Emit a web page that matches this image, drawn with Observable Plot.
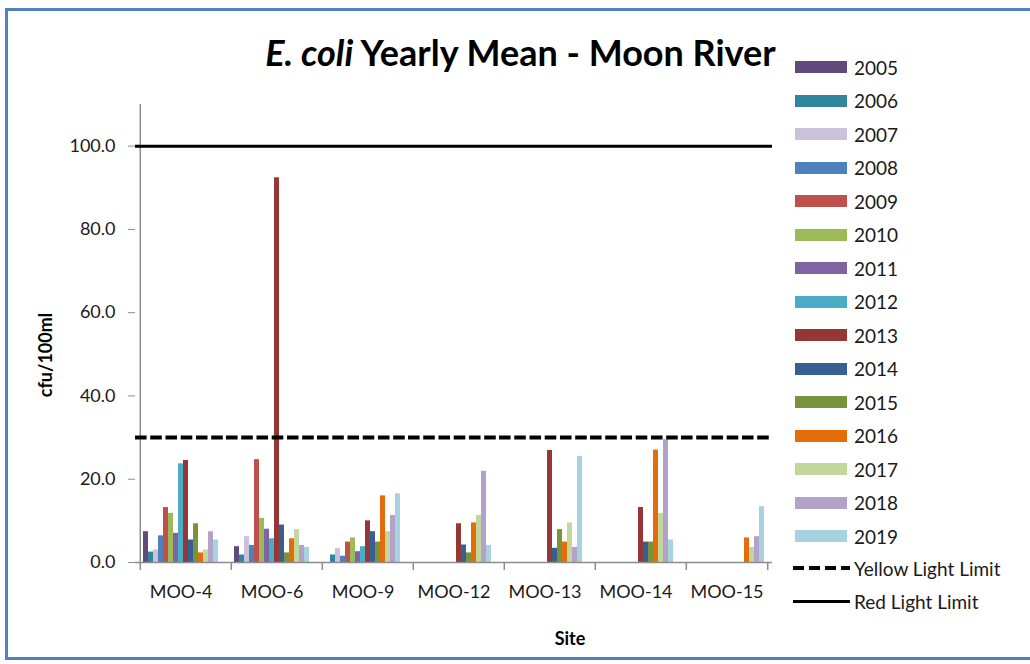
<!DOCTYPE html>
<html>
<head>
<meta charset="utf-8">
<script src="https://cdn.jsdelivr.net/npm/d3@7"></script>
<script src="https://cdn.jsdelivr.net/npm/@observablehq/plot@0.6"></script>
<style>
  body { margin: 0; background: #fff; }
  #wrap { position: relative; width: 1030px; height: 664px; overflow: hidden; background: #fff; font-family: Lato, "Open Sans", sans-serif; color: #1a1a1a; }
  #chart { position: absolute; left: 0; top: 0; }
  #border { position: absolute; left: 5px; top: 8px; width: 1040px; height: 652px; border: 3px solid #4F81BD; box-sizing: border-box; pointer-events: none; z-index: 3; }
  #title { position: absolute; left: 263px; top: 30px; width: 515px; text-align: center; font-weight: bold; font-size: 36px; white-space: nowrap; line-height: 44px; color: #000; }
  #ylab { position: absolute; left: 45px; top: 355px; transform: translate(-50%, -50%) rotate(-90deg); font-weight: bold; font-size: 18px; white-space: nowrap; color: #000; }
  #xlab { position: absolute; left: 570px; top: 638px; transform: translate(-50%, -50%); font-weight: bold; font-size: 18px; color: #000; }
  .lg { position: absolute; left: 0; height: 24px; display: flex; align-items: center; font-size: 19px; white-space: nowrap; }
  .sw { width: 52px; height: 12px; margin-left: 795px; margin-right: 7px; }
  .ln { width: 57px; margin-left: 793px; margin-right: 4px; height: 0; }
</style>
</head>
<body>
<div id="wrap">
  <div id="chart"></div>
  <div id="title"><i>E. coli</i> Yearly Mean - Moon River</div>
  <div id="ylab">cfu/100ml</div>
  <div id="xlab">Site</div>
  <div id="legend"></div>
  <div id="border"></div>
</div>
<script>
const sites = ["MOO-4", "MOO-6", "MOO-9", "MOO-12", "MOO-13", "MOO-14", "MOO-15"];
const years = ["2005","2006","2007","2008","2009","2010","2011","2012","2013","2014","2015","2016","2017","2018","2019"];
const colors = ["#604A7B","#31859C","#CCC1DA","#4F81BD","#C0504D","#9BBB59","#8064A2","#4BACC6","#953735","#376092","#77933C","#E46C0A","#C3D69B","#B3A2C7","#A6D3DF"];
const yTicks = [0, 20, 40, 60, 80, 100];
const yellowLimit = 30;
const redLimit = 100;

// yearly means per site, one value per year 2005..2019 (null = no data)
const moo4  = [7.4, 2.5, 3.0, 6.4, 13.2, 11.8, 7.0, 23.7, 24.5, 5.4, 9.3, 2.3, 3.0, 7.4, 5.4];
const moo6  = [3.8, 1.8, 6.2, 4.1, 24.7, 10.6, 8.0, 5.7, 92.4, 9.0, 2.3, 5.7, 7.9, 4.1, 3.6];
const moo9  = [null, 1.8, 3.4, 1.5, 4.9, 5.9, 2.6, 3.8, 10.0, 7.4, 4.9, 16.0, 7.4, 11.3, 16.5];
const moo12 = [null, null, null, null, null, null, null, null, 9.3, 4.2, 2.3, 9.5, 11.3, 21.9, 4.1];
const moo13 = [null, null, null, null, null, null, null, null, 26.9, 3.4, 7.9, 4.9, 9.5, 3.6, 25.5];
const moo14 = [null, null, null, null, null, null, null, null, 13.2, 4.9, 4.9, 27.0, 11.8, 29.5, 5.4];
const moo15 = [null, null, null, null, null, null, null, null, null, null, null, 5.9, 3.6, 6.2, 13.4];
const series = [moo4, moo6, moo9, moo12, moo13, moo14, moo15];

const rows = [];
sites.forEach((s, i) => series[i].forEach((v, j) => { if (v != null) rows.push({site: s, year: years[j], value: v}); }));

const W = 800, H = 664, ML = 133, MR = 27, MT = 104, MB = 102;
const facetW = (W - ML - MR) / sites.length;
const step = facetW / (years.length + 1);
const dashPeriod = facetW / 6; // whole number of dashes per facet keeps the dashed line continuous
const axisGray = "#8c8c8c";

const chart = Plot.plot({
  width: W, height: H,
  marginLeft: ML, marginRight: MR, marginTop: MT, marginBottom: MB,
  style: {fontFamily: "Lato, 'Open Sans', sans-serif", fontSize: "18px", color: "#1a1a1a", background: "transparent", overflow: "visible"},
  fx: {domain: sites, paddingInner: 0, paddingOuter: 0, tickSize: 0, tickPadding: 23, label: null},
  x: {domain: years, paddingInner: 0, paddingOuter: 0.5, axis: null},
  y: {domain: [0, 110], axis: null},
  color: {domain: years, range: colors},
  marks: [
    Plot.axisY({ticks: yTicks, tickFormat: d3.format(".1f"), tickSize: 7, tickPadding: 13, stroke: axisGray, fill: "#1a1a1a", label: null}),
    Plot.barY(rows, {fx: "site", x: "year", y: "value", fill: "year"}),
    Plot.ruleY([0], {stroke: axisGray, strokeWidth: 1.5}),
    Plot.ruleX([sites[0]], {fx: d => d, x: () => years[0], dx: -step, y1: 110, y2: 0, insetBottom: -8, stroke: axisGray, strokeWidth: 1.5}),
    Plot.ruleX(sites.slice(1), {fx: d => d, x: () => years[0], dx: -step, y1: 0, y2: 0, insetBottom: -8, stroke: axisGray, strokeWidth: 1.5}),
    Plot.ruleX([sites[sites.length - 1]], {fx: d => d, x: () => years[years.length - 1], dx: step, y1: 0, y2: 0, insetBottom: -8, stroke: axisGray, strokeWidth: 1.5}),
    Plot.ruleY([yellowLimit], {stroke: "#000", strokeWidth: 4, strokeDasharray: `${dashPeriod * 0.76},${dashPeriod * 0.24}`}),
    Plot.ruleY([redLimit], {stroke: "#000", strokeWidth: 3})
  ]
});
document.getElementById("chart").appendChild(chart);

// legend
const legend = document.getElementById("legend");
years.forEach((yr, i) => {
  const row = document.createElement("div");
  row.className = "lg";
  row.style.top = (67.3 + 33.5 * i - 12) + "px";
  const sw = document.createElement("div");
  sw.className = "sw";
  sw.style.background = colors[i];
  row.appendChild(sw);
  row.appendChild(document.createTextNode(yr));
  legend.appendChild(row);
});
[["Yellow Light Limit", "dashed"], ["Red Light Limit", "solid"]].forEach(([name, kind], k) => {
  const row = document.createElement("div");
  row.className = "lg";
  row.style.top = (568.3 + 33.4 * k - 12) + "px";
  const ln = document.createElement("div");
  ln.className = "ln";
  if (kind === "dashed") {
    ln.style.height = "4px";
    ln.style.background = "repeating-linear-gradient(90deg, #000 0 11px, transparent 11px 16px)";
  } else {
    ln.style.height = "3px";
    ln.style.background = "#000";
  }
  row.appendChild(ln);
  row.appendChild(document.createTextNode(name));
  legend.appendChild(row);
});
</script>
</body>
</html>
